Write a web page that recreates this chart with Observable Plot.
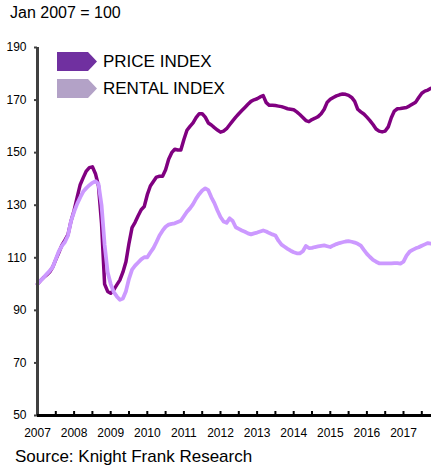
<!DOCTYPE html>
<html>
<head>
<meta charset="utf-8">
<script src="https://cdn.jsdelivr.net/npm/d3@7"></script>
<script src="https://cdn.jsdelivr.net/npm/@observablehq/plot@0.6"></script>
<style>
  body { margin: 0; background: #fff; font-family: "Liberation Sans", Arial, sans-serif; color: #000; }
  #wrap { position: relative; width: 431px; height: 470px; overflow: hidden; }
  #title { position: absolute; left: 10px; top: 3px; font-size: 16px; line-height: 20px; white-space: nowrap; }
  #chart { position: absolute; left: 0; top: 26px; }
  #caption { position: absolute; left: 15px; top: 447px; font-size: 17px; line-height: 20px; white-space: nowrap; }
  .leg { position: absolute; left: 57px; height: 19px; display: flex; align-items: center; white-space: nowrap; }
  .leg svg { display: block; }
  .leg span { margin-left: 6px; font-size: 17px; line-height: 19px; }
</style>
</head>
<body>
<div id="wrap">
  <div id="title"></div>
  <div id="chart"></div>
  <div id="legend"></div>
  <div id="caption"></div>
</div>
<script>
const titleText = "Jan 2007 = 100";
const captionText = "Source: Knight Frank Research";
const startYear = 2007; // monthly series starting Jan 2007
const seriesNames = ["PRICE INDEX", "RENTAL INDEX"];
const lineColors = ["#800080", "#cc99ff"];
const swatchColors = ["#7030a0", "#b3a2c7"];

const priceIndex = [
  100, 101.3, 102.5, 103.5, 104.6, 106.5, 109.3, 112, 114.8, 116.7, 118.8, 124,
  128, 133, 137.8, 140.5, 143, 144.3, 144.6, 142, 137.3, 123, 100, 97.2,
  96.5, 97.8, 99.7, 101.5, 104.5, 108.5, 115.5, 121.5, 123.5, 126, 128.3, 129.5,
  134, 137.3, 139, 140.7, 141, 141, 143.5, 147.5, 150, 151.3, 151, 151,
  155, 158.5, 160, 161.3, 163.3, 164.8, 164.8, 163.5, 161.3, 160.5, 159.5, 158.6,
  157.8, 158.2, 159.1, 160.6, 162.1, 163.5, 164.8, 166, 167.2, 168.4, 169.5, 170.1,
  170.5, 171.2, 171.7, 169, 168, 168, 167.9, 167.7, 167.5, 167.1, 166.7, 166.5,
  166.3, 165.5, 164.5, 163.4, 162.2, 161.8, 162.6, 163.1, 163.7, 164.8, 166.5, 169.2,
  170.3, 171, 171.6, 172, 172.3, 172.2, 171.8, 171, 169.5, 166.5, 165.5, 164.7,
  163.5, 162.2, 160.7, 159, 158.2, 157.9, 158.2, 159.8, 163.3, 165.8, 166.7, 166.8,
  167, 167.2, 167.8, 168.5, 169.2, 171, 172.6, 173.4, 173.8, 174.5
];

const rentalIndex = [
  100, 101.3, 102.5, 103.8, 105, 106.5, 109.5, 112.5, 114.5, 116, 118.5, 124,
  127.5, 130.5, 133, 135.2, 136.5, 137.6, 138.5, 139.1, 138.1, 130, 115, 104.5,
  100, 97, 95.3, 94, 94.5, 97.3, 102, 105.5, 107, 108.2, 109.4, 110.2,
  110.2, 112, 113.7, 116, 118.5, 120.3, 121.8, 122.6, 122.9, 123.1, 123.6, 124.1,
  125.8, 127.5, 128.8, 130.4, 132.5, 134.2, 135.6, 136.4, 135.7, 133, 130.8, 128,
  125.5, 123.8, 123.3, 125, 124, 121.6, 121, 120.4, 119.9, 119.3, 118.9, 119.3,
  119.6, 120, 120.4, 120, 119.4, 118.9, 118.5, 116.5, 115, 114.2, 113.4, 112.7,
  112.1, 111.7, 111.7, 112.5, 114.5, 113.7, 113.8, 114.1, 114.3, 114.5, 114.7, 114.4,
  114.1, 114.7, 115.2, 115.6, 115.9, 116.2, 116.3, 116.1, 115.8, 115.3, 114.6, 113,
  111.5, 110.3, 109.2, 108.5, 107.9, 107.9, 107.9, 107.9, 107.9, 108, 108, 107.8,
  108.5, 110.8, 112.3, 113, 113.6, 114, 114.6, 115.1, 115.6, 115.4
];

const yTicks = [50, 70, 90, 110, 130, 150, 170, 190];
const yearLabels = [2007, 2008, 2009, 2010, 2011, 2012, 2013, 2014, 2015, 2016, 2017];
const halfYearTicks = [2007.5, 2008, 2008.5, 2009, 2009.5, 2010, 2010.5, 2011, 2011.5, 2012, 2012.5,
  2013, 2013.5, 2014, 2014.5, 2015, 2015.5, 2016, 2016.5, 2017, 2017.5];

const toRows = (values, name) => values.map((v, i) => ({ t: startYear + i / 12, v, name }));
const priceRows = toRows(priceIndex, seriesNames[0]);
const rentalRows = toRows(rentalIndex, seriesNames[1]);

document.getElementById("title").textContent = titleText;
document.getElementById("caption").textContent = captionText;

const chart = Plot.plot({
  width: 431,
  height: 414,
  marginTop: 21,
  marginBottom: 25,
  marginLeft: 37,
  marginRight: 0,
  style: { fontFamily: "'Liberation Sans', Arial, sans-serif", background: "transparent", color: "#000" },
  x: { domain: [2007, 2017.765] },
  y: { domain: [50, 190] },
  marks: [
    Plot.line(priceRows, { x: "t", y: "v", stroke: lineColors[0], strokeWidth: 3.5, strokeLinejoin: "round" }),
    Plot.line(rentalRows, { x: "t", y: "v", stroke: lineColors[1], strokeWidth: 3.8, strokeLinejoin: "round" }),
    Plot.ruleX([startYear], { stroke: "#404040", strokeWidth: 3 }),
    Plot.ruleY([yTicks[0]], { stroke: "#000", strokeWidth: 3 }),
    Plot.axisY({ ticks: yTicks, tickSize: 3, tickPadding: 8, fontSize: 12, stroke: "#404040", strokeWidth: 2, label: null, tickFormat: d => String(d) }),
    Plot.axisX({ ticks: yearLabels, tickSize: 0, tickPadding: 13, fontSize: 12, label: null, tickFormat: d => String(d) }),
    Plot.axisX({ ticks: halfYearTicks, tickSize: 4, dy: -4, strokeWidth: 2, stroke: "#000", label: null, tickFormat: () => "" })
  ]
});
document.getElementById("chart").appendChild(chart);

// Legend with arrow-shaped swatches
const legend = document.getElementById("legend");
const legendTops = [52, 79];
seriesNames.forEach((name, i) => {
  const row = document.createElement("div");
  row.className = "leg";
  row.style.top = legendTops[i] + "px";
  const ns = "http://www.w3.org/2000/svg";
  const svg = document.createElementNS(ns, "svg");
  svg.setAttribute("width", 40);
  svg.setAttribute("height", 19);
  const poly = document.createElementNS(ns, "polygon");
  poly.setAttribute("points", "0,0 31,0 40,9.5 31,19 0,19");
  poly.setAttribute("fill", swatchColors[i]);
  svg.appendChild(poly);
  const span = document.createElement("span");
  span.textContent = name;
  row.appendChild(svg);
  row.appendChild(span);
  legend.appendChild(row);
});
</script>
</body>
</html>
